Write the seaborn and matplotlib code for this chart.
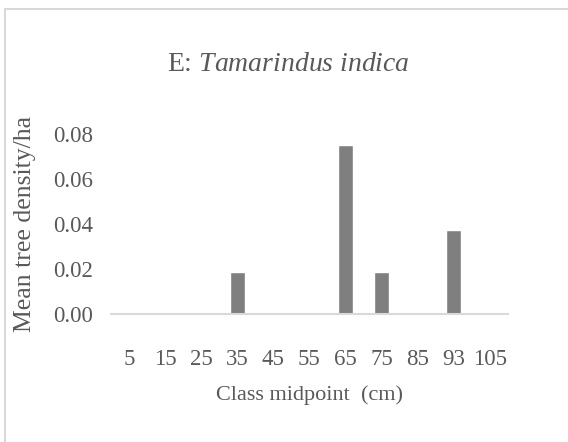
import numpy as np
import pandas as pd
import matplotlib
matplotlib.use("Agg")
import matplotlib.pyplot as plt
import seaborn as sns
from matplotlib.patches import Rectangle

# class midpoints (cm) and mean tree density per ha
midpoints = ["5", "15", "25", "35", "45", "55", "65", "75", "85", "93", "105"]
density = [0, 0, 0, 0.0185, 0, 0, 0.0752, 0.0185, 0, 0.0374, 0]
yticks = [0.00, 0.02, 0.04, 0.06, 0.08]

df = pd.DataFrame({"midpoint": midpoints, "density": density})

sns.set_style("white")
plt.rcParams["font.family"] = ["Liberation Serif", "DejaVu Serif"]
plt.rcParams["mathtext.fontset"] = "custom"
plt.rcParams["mathtext.rm"] = "Liberation Serif"
plt.rcParams["mathtext.it"] = "Liberation Serif:italic"

txt = "#595959"
fig = plt.figure(figsize=(5.68, 4.42), dpi=100)
ax = fig.add_axes([0.195, 0.2896, 0.699, 0.4072])

sns.barplot(data=df, x="midpoint", y="density", order=midpoints,
            color="#7f7f7f", saturation=1, width=0.42, ax=ax)

ax.set_ylim(0, 0.08)
ax.set_xlim(-0.5, len(midpoints) - 0.5)
ax.set_yticks(yticks)
ax.set_yticklabels([f"{v:.2f}" for v in yticks])
ax.tick_params(axis="both", length=0, labelsize=16.5, colors=txt)
ax.tick_params(axis="x", pad=25)
ax.tick_params(axis="y", pad=13)
for s in ["top", "right", "left"]:
    ax.spines[s].set_visible(False)
ax.spines["bottom"].set_color("#d9d9d9")
ax.spines["bottom"].set_linewidth(1.5)

ax.set_xlabel("Class midpoint  (cm)", fontsize=16, color=txt, labelpad=11)
ax.set_ylabel("Mean tree density/ha", fontsize=18.5, color=txt, labelpad=12)

fig.text(0.508, 0.853, r"E: $\it{Tamarindus\ indica}$", ha="center",
         va="center", fontsize=20, color=txt)

fig.patches.append(Rectangle((0.009, -0.05), 1.1, 1.03, transform=fig.transFigure,
                             fill=False, edgecolor="#d9d9d9", linewidth=1.5))

fig.savefig("out.png", dpi=100)
